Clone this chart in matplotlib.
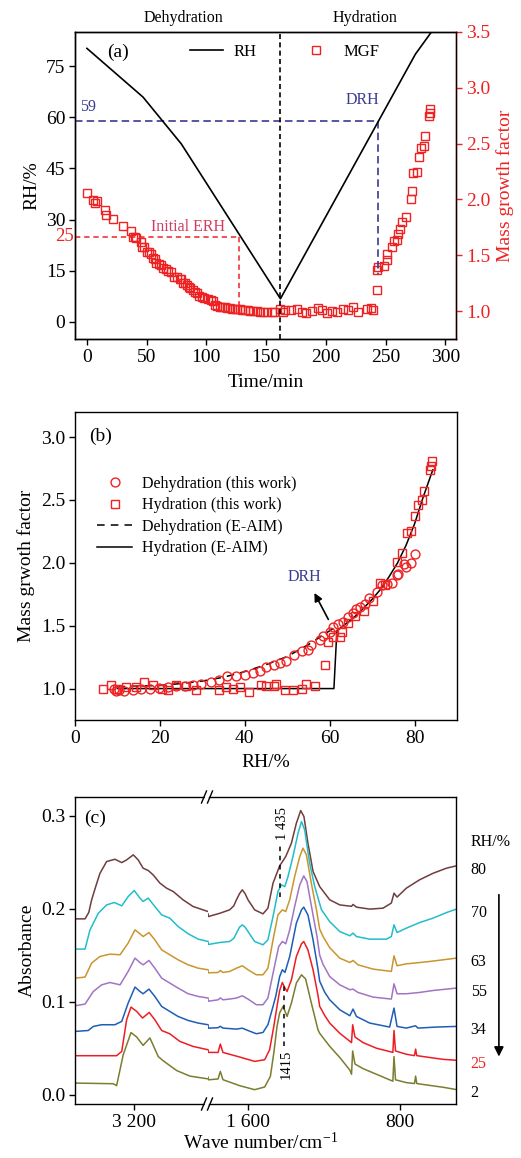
import matplotlib
matplotlib.use('Agg')
import matplotlib.pyplot as plt
import matplotlib.transforms as mtransforms
from matplotlib.lines import Line2D
from matplotlib.patches import Polygon

plt.rcParams['font.family'] = ['Liberation Serif', 'DejaVu Serif']
plt.rcParams['mathtext.fontset'] = 'custom'
plt.rcParams['mathtext.rm'] = 'Liberation Serif'
plt.rcParams['mathtext.it'] = 'Liberation Serif:italic'
plt.rcParams['axes.linewidth'] = 1.0

# ---------------- Panel (a) data ----------------
rh_time = [0, 47, 79, 162, 275, 288]
rh_value = [80.2, 65.9, 52.2, 6.8, 78.5, 84.8]

dehy_time = [0, 5, 6.5, 8.4, 14.8, 16.3, 21.8, 30.2, 37.2, 38.6, 40, 41.4, 45.6, 46.5, 48,
             50.3, 52, 54, 55.4, 57, 58.2, 60, 62.4, 63.8, 66, 68, 70.7, 72.7, 75, 77.8,
             79, 80.5, 82, 83.9, 85.3, 86.7, 88.5, 90.4, 92, 93.9, 96, 97.9, 101.5, 104, 105.7,
             107.1, 109, 111.3, 113, 115.5, 117.5, 119.7, 121.5, 123.9, 126, 128.1, 130, 132.3,
             134.5, 136.5, 139, 142.1, 145, 147.7, 151, 154.7, 157]
dehy_mgf = [2.06, 1.995, 1.965, 1.99, 1.905, 1.86, 1.824, 1.762, 1.72, 1.666, 1.66, 1.651, 1.621,
            1.576, 1.57, 1.531, 1.525, 1.511, 1.472, 1.47, 1.433, 1.425, 1.412, 1.383, 1.375, 1.36,
            1.35, 1.307, 1.302, 1.287, 1.285, 1.254, 1.25, 1.233, 1.22, 1.203, 1.19, 1.173, 1.16,
            1.134, 1.125, 1.114, 1.105, 1.095, 1.09, 1.054, 1.045, 1.039, 1.035, 1.033, 1.03,
            1.024, 1.022, 1.018, 1.016, 1.015, 1.012, 1.009, 1.007, 1.003, 1.0, 0.997, 0.995,
            0.994, 0.992, 0.994, 0.99]
hydr_time = [161.6, 163.8, 165.8, 170.5, 175.6, 179.8, 183.4, 188.2, 193.7, 196.5, 200.7, 204.9,
             209.1, 214.7, 218.9, 223.1, 227.3, 234.3, 237.5, 239.9, 242.7, 242.7, 244.1, 248.3,
             251, 251, 255.2, 257.2, 259.4, 260.8, 262.2, 263.6, 267.3, 271.2, 272, 273.4, 276.2,
             278.4, 279.6, 282.4, 283.2, 286, 287.4, 287.4]
hydr_mgf = [1.02, 0.99, 1.01, 1.006, 1.02, 0.99, 0.98, 0.997, 1.03, 1.012, 0.985, 1.0, 0.994, 1.02,
            1.012, 1.036, 0.99, 1.02, 1.03, 1.012, 1.185, 1.37, 1.394, 1.403, 1.454, 1.508, 1.573,
            1.627, 1.639, 1.693, 1.738, 1.797, 1.842, 2.004, 2.075, 2.24, 2.25, 2.38, 2.46, 2.48,
            2.57, 2.744, 2.81, 2.774]
switch_time = 162
drh_value = 59
drh_time = 244
erh_value = 25
erh_time = 127

# ---------------- Panel (b) data ----------------
dehy_rh = [80.1, 79.1, 78.1, 77.5, 76.2, 75.8, 74.6, 73.4, 72.3, 71.1, 69.3, 68.3, 67.1, 66.2, 65.4,
           64.4, 63.2, 62, 60.8, 60, 58.5, 57.7, 55.7, 54.9, 53.4, 51.6, 49.8, 48.2, 47, 45.1,
           43.7, 41.9, 40, 38, 35.8, 34, 32.1, 29.7, 27.7, 25.8, 23.8, 21.8, 19.7, 17.7, 15.5,
           13.6, 11.6, 9.6, 9.2, 10.4]
dehy_gf = [2.07, 2.0, 1.97, 1.99, 1.91, 1.90, 1.84, 1.83, 1.82, 1.77, 1.72, 1.67, 1.65, 1.63, 1.60,
           1.57, 1.53, 1.51, 1.49, 1.45, 1.42, 1.39, 1.35, 1.31, 1.30, 1.27, 1.22, 1.20, 1.19, 1.17,
           1.14, 1.12, 1.11, 1.10, 1.10, 1.07, 1.05, 1.035, 1.027, 1.02, 1.02, 1.013, 1.008, 1.0,
           0.995, 0.99, 0.98, 0.98, 1.0, 0.99]
hydr_rh = [6.5, 8.4, 10, 11.98, 14.3, 16.3, 18.3, 20.6, 21.8, 23.8, 26.2, 28.5, 34, 35.6, 37.2, 38.8,
           41.1, 43.9, 45.1, 47, 47.4, 49.4, 51.4, 53.4, 54.5, 56.5, 58.9, 59.6, 60.8, 62.4, 62.8,
           64.4, 66, 68, 70.3, 71.9, 73, 75.8, 77, 78.3, 79.1, 80.1, 80.9, 81.7, 82.3, 83.7, 84.2, 83.8]
hydr_gf = [1.0, 1.03, 1.0, 1.01, 1.01, 1.05, 1.03, 1.0, 0.99, 1.03, 1.02, 0.99, 0.99, 1.01, 1.0, 1.01,
           0.97, 1.03, 1.02, 1.02, 1.04, 0.99, 0.99, 0.995, 1.035, 1.02, 1.19, 1.37, 1.41, 1.41, 1.45,
           1.52, 1.58, 1.62, 1.70, 1.84, 1.82, 2.01, 2.08, 2.24, 2.25, 2.37, 2.46, 2.5, 2.57, 2.74,
           2.81, 2.77]
eaim_dehy_rh = [10, 20, 25, 30, 35, 40, 45, 50, 55, 60, 62]
eaim_dehy_gf = [1.015, 1.025, 1.04, 1.06, 1.09, 1.135, 1.19, 1.255, 1.35, 1.46, 1.50]
eaim_hydr_rh = [10, 61, 61.7, 64, 66, 68, 70, 72, 74, 76, 78, 80, 82, 84.3]
eaim_hydr_gf = [1.0, 1.0, 1.46, 1.52, 1.575, 1.64, 1.71, 1.79, 1.89, 2.0, 2.14, 2.31, 2.52, 2.74]

# ---------------- Panel (c) data: (wavenumber, absorbance) ----------------
c80_left = [(3513, 0.189), (3460, 0.189), (3440, 0.196), (3425, 0.2095), (3400, 0.226), (3381, 0.238),
            (3346, 0.2506), (3302, 0.2531), (3266, 0.2495), (3240, 0.2524), (3205, 0.2578),
            (3179, 0.2524), (3153, 0.2435), (3126, 0.241), (3100, 0.2363), (3064, 0.2274),
            (3029, 0.222), (2994, 0.2184), (2942, 0.2095), (2889, 0.2023), (2810, 0.1969)]
c80_right = [(1811, 0.1944), (1809, 0.1915), (1749, 0.195), (1697, 0.1987), (1675, 0.203), (1661, 0.2095),
             (1645, 0.216), (1630, 0.2202), (1615, 0.216), (1600, 0.2095), (1565, 0.1987),
             (1521, 0.1944), (1495, 0.2005), (1468, 0.2274), (1433, 0.246), (1401, 0.256),
             (1371, 0.2704), (1345, 0.2918), (1322, 0.3054), (1305, 0.299), (1284, 0.2704),
             (1257, 0.24), (1222, 0.2237), (1169, 0.2095), (1116, 0.204), (1054, 0.2025),
             (1046, 0.2045), (1028, 0.2016), (958, 0.1995), (888, 0.2005), (844, 0.206),
             (830, 0.2166), (814, 0.2124), (765, 0.222), (695, 0.231), (624, 0.238),
             (553, 0.2435), (501, 0.246)]
c70_left = [(3513, 0.1565), (3460, 0.1565), (3434, 0.177), (3390, 0.195), (3346, 0.204), (3305, 0.2066),
            (3266, 0.203), (3232, 0.213), (3200, 0.2195), (3170, 0.2113), (3153, 0.2077),
            (3126, 0.2113), (3091, 0.2023), (3055, 0.1933), (3012, 0.1898), (2968, 0.1808),
            (2915, 0.173), (2862, 0.1672), (2810, 0.1647)]
c70_right = [(1811, 0.1647), (1809, 0.1615), (1749, 0.1636), (1697, 0.1647), (1675, 0.168), (1661, 0.1737),
             (1645, 0.180), (1630, 0.1826), (1615, 0.180), (1600, 0.1754), (1565, 0.1647),
             (1521, 0.1611), (1495, 0.1665), (1468, 0.1915), (1442, 0.2184), (1424, 0.2256),
             (1406, 0.2237), (1389, 0.2345), (1363, 0.256), (1336, 0.2811), (1318, 0.2936),
             (1301, 0.2846), (1275, 0.2489), (1248, 0.2237), (1213, 0.199), (1169, 0.186),
             (1116, 0.1754), (1063, 0.1708), (1046, 0.1737), (1028, 0.17), (958, 0.1672),
             (870, 0.1672), (844, 0.17), (830, 0.1826), (814, 0.1743), (765, 0.179), (695, 0.185),
             (624, 0.1898), (553, 0.1958), (501, 0.1995)]
c63_left = [(3513, 0.1253), (3460, 0.1264), (3425, 0.1415), (3381, 0.1486), (3328, 0.1511), (3275, 0.1504),
            (3232, 0.163), (3196, 0.1772), (3170, 0.173), (3153, 0.17), (3122, 0.1743), (3091, 0.1665),
            (3055, 0.1557), (3012, 0.1504), (2968, 0.145), (2915, 0.1396), (2862, 0.136), (2810, 0.1343)]
c63_right = [(1811, 0.1343), (1809, 0.131), (1758, 0.1314), (1746, 0.1335), (1732, 0.1314), (1697, 0.1325),
             (1661, 0.136), (1630, 0.1386), (1600, 0.1343), (1556, 0.1289), (1521, 0.1289),
             (1495, 0.136), (1468, 0.1665), (1442, 0.1933), (1419, 0.1987), (1401, 0.1969),
             (1380, 0.2095), (1354, 0.2345), (1327, 0.256), (1310, 0.265), (1292, 0.2578),
             (1266, 0.2274), (1239, 0.1987), (1222, 0.178), (1204, 0.170), (1169, 0.158),
             (1116, 0.1468), (1063, 0.1421), (1046, 0.1443), (1020, 0.1396), (940, 0.135),
             (844, 0.1325), (830, 0.1493), (814, 0.1386), (765, 0.1407), (721, 0.1415),
             (642, 0.1432), (571, 0.145), (501, 0.1468)]
c55_left = [(3513, 0.0956), (3460, 0.0974), (3416, 0.111), (3372, 0.1181), (3328, 0.1206), (3275, 0.1181),
            (3232, 0.1325), (3196, 0.1468), (3170, 0.1421), (3153, 0.1396), (3122, 0.1443),
            (3091, 0.136), (3055, 0.1253), (3012, 0.12), (2968, 0.1146), (2915, 0.1085),
            (2862, 0.1056), (2810, 0.1039)]
c55_right = [(1811, 0.1039), (1809, 0.1005), (1758, 0.102), (1746, 0.104), (1732, 0.102), (1697, 0.1028),
             (1661, 0.1039), (1630, 0.1063), (1600, 0.1028), (1556, 0.0967), (1521, 0.0967),
             (1495, 0.1039), (1464, 0.1343), (1438, 0.1593), (1419, 0.1647), (1401, 0.1622),
             (1380, 0.1772), (1354, 0.2023), (1327, 0.2256), (1306, 0.2352), (1289, 0.2291),
             (1262, 0.1987), (1236, 0.17), (1222, 0.15), (1204, 0.140), (1169, 0.127),
             (1116, 0.1181), (1063, 0.1128), (1046, 0.1135), (1020, 0.1099), (940, 0.1049),
             (844, 0.1028), (830, 0.1192), (814, 0.1085), (765, 0.1085), (695, 0.1099),
             (624, 0.112), (553, 0.1135), (501, 0.1146)]
c34_left = [(3513, 0.068), (3443, 0.069), (3416, 0.0734), (3372, 0.0752), (3302, 0.0752), (3266, 0.0788),
            (3232, 0.0985), (3196, 0.1157), (3170, 0.111), (3153, 0.1085), (3122, 0.1135),
            (3091, 0.1056), (3055, 0.0949), (3012, 0.0895), (2968, 0.0841), (2915, 0.0798),
            (2862, 0.077), (2810, 0.0752)]
c34_right = [(1811, 0.0752), (1809, 0.0715), (1758, 0.072), (1746, 0.0735), (1732, 0.0716), (1661, 0.0705),
             (1630, 0.0715), (1600, 0.069), (1556, 0.0655), (1521, 0.0669), (1495, 0.0752),
             (1468, 0.0949), (1454, 0.1056), (1433, 0.127), (1419, 0.1343), (1405, 0.1314),
             (1380, 0.1486), (1345, 0.1844), (1318, 0.1987), (1306, 0.2016), (1284, 0.1933),
             (1257, 0.1665), (1231, 0.135), (1222, 0.122), (1195, 0.110), (1169, 0.102),
             (1116, 0.0913), (1063, 0.0849), (1046, 0.092), (1028, 0.0841), (958, 0.077),
             (853, 0.0727), (830, 0.0931), (814, 0.0734), (765, 0.0716), (716, 0.0741),
             (704, 0.0716), (607, 0.0727), (501, 0.0734)]
c25_left = [(3513, 0.0419), (3293, 0.0419), (3266, 0.0465), (3240, 0.0806), (3217, 0.0942), (3187, 0.0895),
            (3156, 0.0824), (3121, 0.0884), (3091, 0.0806), (3055, 0.069), (3012, 0.0655),
            (2959, 0.0573), (2889, 0.0519), (2810, 0.0483)]
c25_right = [(1811, 0.0483), (1809, 0.0455), (1758, 0.0454), (1746, 0.0544), (1732, 0.0454), (1644, 0.0405),
             (1565, 0.0358), (1512, 0.0376), (1486, 0.0483), (1464, 0.0734), (1447, 0.0949),
             (1433, 0.112), (1419, 0.1206), (1405, 0.1146), (1394, 0.111), (1371, 0.1235),
             (1345, 0.1486), (1318, 0.1622), (1306, 0.1647), (1284, 0.1557), (1257, 0.1343),
             (1231, 0.107), (1222, 0.095), (1195, 0.085), (1169, 0.077), (1116, 0.066),
             (1054, 0.056), (1048, 0.0752), (1036, 0.062), (993, 0.056), (923, 0.050),
             (836, 0.0455), (830, 0.069), (822, 0.047), (765, 0.0435), (722, 0.042), (716, 0.049),
             (710, 0.042), (642, 0.04), (571, 0.038), (501, 0.037)]
c2_left = [(3513, 0.0125), (3311, 0.0118), (3293, 0.0097), (3258, 0.043), (3217, 0.0668), (3187, 0.062),
           (3153, 0.053), (3117, 0.061), (3073, 0.041), (3047, 0.0365), (2976, 0.026), (2906, 0.020),
           (2810, 0.017)]
c2_right = [(1811, 0.019), (1809, 0.016), (1758, 0.0169), (1746, 0.025), (1732, 0.0161), (1644, 0.0097),
            (1565, 0.0054), (1512, 0.0083), (1482, 0.0197), (1464, 0.0448), (1447, 0.0734),
            (1433, 0.088), (1415, 0.0949), (1394, 0.0841), (1371, 0.0985), (1345, 0.12),
            (1318, 0.1289), (1296, 0.1243), (1266, 0.0985), (1231, 0.0698), (1222, 0.066),
            (1169, 0.052), (1116, 0.040), (1063, 0.0265), (1054, 0.022), (1048, 0.047),
            (1036, 0.033), (993, 0.028), (923, 0.022), (836, 0.0145), (830, 0.041), (822, 0.016),
            (765, 0.013), (722, 0.012), (716, 0.020), (710, 0.012), (642, 0.010), (571, 0.008),
            (501, 0.0055)]
spec_rh = ['80', '70', '63', '55', '34', '25', '2']
spec_colors = ['#6f3d3d', '#22bdca', '#c9952f', '#a274c4', '#1f5db6', '#ee1d25', '#7b7d2f']
spectra = [(c80_left, c80_right), (c70_left, c70_right), (c63_left, c63_right),
           (c55_left, c55_right), (c34_left, c34_right), (c25_left, c25_right),
           (c2_left, c2_right)]

RED = '#ee2222'
NAVY = '#3a3a92'
CRIMSON = '#d23c62'

W, H = 521, 1158
fig = plt.figure(figsize=(W / 100, H / 100), dpi=100)


def rect(l, t, r, b):
    return [l / W, 1 - b / H, (r - l) / W, (b - t) / H]


TICK = 14
tick_kw = dict(direction='out', length=4, width=1, labelsize=TICK, pad=3)

# ================= Panel (a) =================
axA = fig.add_axes(rect(75, 32, 456, 339))
axA.plot(rh_time, rh_value, color='k', lw=1.2, zorder=3)
axA.set_xlim(-10, 309)
axA.set_ylim(-5, 85)
axA.set_xticks(range(0, 301, 50))
axA.set_yticks(range(0, 76, 15))
axA.tick_params(axis='both', **tick_kw)
axA.tick_params(right=False)
axA.set_xlabel('Time/min', fontsize=14, labelpad=6)
axA.set_ylabel('RH/%', fontsize=14, labelpad=4)

# reference lines
axA.axvline(switch_time, color='k', lw=1.2, ls=(0, (3, 2)), zorder=4)
axA.plot([-10, drh_time], [drh_value, drh_value], color=NAVY, lw=1.2, ls=(0, (4.5, 2.5)))
axA.plot([drh_time, drh_time], [drh_value, 14], color=NAVY, lw=1.2, ls=(0, (4.5, 2.5)))
axA.plot([-10, erh_time], [erh_value, erh_value], color=RED, lw=1.1, ls=(0, (3.5, 2.5)))
axA.plot([erh_time, erh_time], [erh_value, 5], color=RED, lw=1.1, ls=(0, (3.5, 2.5)))
axA.text(-6, 63, '59', color=NAVY, fontsize=11.5, ha='left', va='center')
axA.text(231, 65.2, 'DRH', color=NAVY, fontsize=11.5, ha='center', va='center')
axA.text(85, 27.8, 'Initial ERH', color=CRIMSON, fontsize=11.5, ha='center', va='center')
trA = mtransforms.blended_transform_factory(axA.transAxes, axA.transData)
axA.text(-0.004, erh_value, '25', color=RED, fontsize=13.5, ha='right', va='center',
         transform=trA)
trA2 = mtransforms.blended_transform_factory(axA.transData, axA.transAxes)
axA.text(81, 1.045, 'Dehydration', fontsize=11.5, ha='center', va='center', transform=trA2)
axA.text(233, 1.045, 'Hydration', fontsize=11.5, ha='center', va='center', transform=trA2)
axA.text(0.084, 0.935, '(a)', fontsize=14, ha='left', va='center', transform=axA.transAxes)

axA2 = axA.twinx()
axA2.plot(dehy_time, dehy_mgf, 's', mfc='none', mec=RED, ms=5.8, mew=1.0, zorder=2)
axA2.plot(hydr_time, hydr_mgf, 's', mfc='none', mec=RED, ms=5.8, mew=1.0, zorder=2)
axA2.set_ylim(0.75, 3.5)
axA2.set_yticks([1.0, 1.5, 2.0, 2.5, 3.0, 3.5])
axA2.set_yticklabels(['1.0', '1.5', '2.0', '2.5', '3.0', '3.5'])
axA2.tick_params(axis='y', colors=RED, **tick_kw)
axA2.spines['right'].set_color(RED)
axA2.set_ylabel('Mass growth factor', color=RED, fontsize=14, labelpad=4)
axA.set_zorder(axA2.get_zorder() + 1)
axA.patch.set_visible(False)
leg_handles = [Line2D([], [], color='k', lw=1.2),
               Line2D([], [], ls='none', marker='s', mfc='none', mec=RED, ms=5.8, mew=1.0)]
axA.legend(leg_handles, ['RH', 'MGF'], loc='center', bbox_to_anchor=(0.55, 0.935), ncol=2,
           frameon=False, fontsize=12, handlelength=2.0, columnspacing=2.6, handletextpad=0.6)

# ================= Panel (b) =================
axB = fig.add_axes(rect(75, 412, 457, 720))
axB.plot(eaim_dehy_rh, eaim_dehy_gf, color='k', lw=1.1, ls=(0, (5, 4)),
         label='Dehydration (E-AIM)', zorder=2)
axB.plot(eaim_hydr_rh, eaim_hydr_gf, color='k', lw=1.1, label='Hydration (E-AIM)', zorder=2)
axB.plot(dehy_rh, dehy_gf, 'o', mfc='none', mec=RED, ms=6.4, mew=1.0,
         label='Dehydration (this work)', zorder=3)
axB.plot(hydr_rh, hydr_gf, 's', mfc='none', mec=RED, ms=6.0, mew=1.0,
         label='Hydration (this work)', zorder=3)
axB.set_xlim(0, 90)
axB.set_ylim(0.75, 3.2)
axB.set_xticks([0, 20, 40, 60, 80])
axB.set_yticks([1.0, 1.5, 2.0, 2.5, 3.0])
axB.set_yticklabels(['1.0', '1.5', '2.0', '2.5', '3.0'])
axB.tick_params(axis='both', **tick_kw)
axB.set_xlabel('RH/%', fontsize=14, labelpad=5)
axB.set_ylabel('Mass grwoth factor', fontsize=14, labelpad=4)
axB.text(6.1, 3.01, '(b)', fontsize=14, ha='center', va='center')
axB.annotate('', xy=(56.1, 1.78), xytext=(60, 1.53),
             arrowprops=dict(arrowstyle='-|>', color='k', lw=1.2, mutation_scale=12))
axB.text(54.1, 1.885, 'DRH', color=NAVY, fontsize=11.5, ha='center', va='center')
h, l = axB.get_legend_handles_labels()
order = [2, 3, 0, 1]
axB.legend([h[i] for i in order], [l[i] for i in order], loc='upper left',
           bbox_to_anchor=(0.02, 0.84), frameon=False, fontsize=11.5, handlelength=2.2,
           labelspacing=0.35, handletextpad=0.6)

# ================= Panel (c) =================
axL = fig.add_axes(rect(75, 797, 208, 1104))
axR = fig.add_axes(rect(208, 797, 456, 1104), sharey=axL)
for (lft, rgt), col in zip(spectra, spec_colors):
    x, y = zip(*lft)
    axL.plot(x, y, color=col, lw=1.1)
    x, y = zip(*rgt)
    axR.plot(x, y, color=col, lw=1.1)
axL.set_xlim(3513, 2810)
axR.set_xlim(1811, 503)
axL.set_ylim(-0.01, 0.32)
axL.set_yticks([0.0, 0.1, 0.2, 0.3])
axL.set_yticklabels(['0.0', '0.1', '0.2', '0.3'])
axL.set_xticks([3200])
axL.set_xticklabels(['3 200'])
axR.set_xticks([1600, 800])
axR.set_xticklabels(['1 600', '800'])
axL.tick_params(axis='both', **tick_kw)
axR.tick_params(axis='x', **tick_kw)
axR.tick_params(axis='y', left=False, labelleft=False)
axL.spines['right'].set_visible(False)
axR.spines['left'].set_visible(False)
axL.set_ylabel('Absorbance', fontsize=14, labelpad=4)
fig.text(261 / W, 1 - 1143 / H, 'Wave number/cm$^{-1}$', fontsize=14, ha='center', va='center')
axL.text(3407, 0.2975, '(c)', fontsize=14, ha='center', va='center')

# peak markers
axR.plot([1432, 1432], [0.213, 0.272], color='k', lw=1.1, ls=(0, (3, 3)))
axR.text(1420, 0.274, '1 435', rotation=90, fontsize=10.5, ha='center', va='bottom')
axR.plot([1412, 1412], [0.052, 0.118], color='k', lw=1.1, ls=(0, (3, 3)))
axR.text(1398, 0.017, '1415', rotation=90, fontsize=10.5, ha='center', va='bottom')

# RH labels at right
trR = mtransforms.blended_transform_factory(axR.transAxes, axR.transData)
axR.text(1.059, 0.2718, 'RH/%', fontsize=11.5, ha='left', va='center', transform=trR)
for (lft, rgt), lab in zip(spectra, spec_rh):
    axR.text(1.059, rgt[-1][1] - 0.004, lab, fontsize=11.5, ha='left', va='center',
             transform=trR, color=(RED if lab == '25' else 'k'))
axR.annotate('', xy=(1.173, 0.038), xytext=(1.173, 0.218), xycoords=trR, textcoords=trR,
             arrowprops=dict(arrowstyle='-|>', color='k', lw=1.2, mutation_scale=14))


# axis break marks
def brk(yc):
    pts = [((201.5, yc + 6), (206.5, yc - 6)), ((207.5, yc + 6), (212.5, yc - 6))]
    poly = Polygon([(202.5 / W, 1 - (yc + 6) / H), (207.5 / W, 1 - (yc - 6) / H),
                    (211.5 / W, 1 - (yc - 6) / H), (206.5 / W, 1 - (yc + 6) / H)],
                   closed=True, transform=fig.transFigure, facecolor='white',
                   edgecolor='none', zorder=10)
    fig.patches.append(poly)
    for (x0, y0), (x1, y1) in pts:
        fig.add_artist(Line2D([x0 / W, x1 / W], [1 - y0 / H, 1 - y1 / H],
                              transform=fig.transFigure, color='k', lw=1.0, zorder=11))


brk(797)
brk(1104)

fig.savefig('out.png', dpi=100)
